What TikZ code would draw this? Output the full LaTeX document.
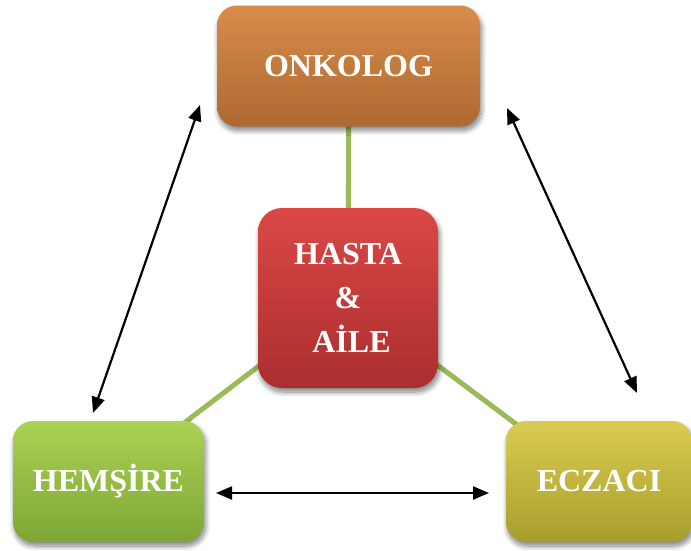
\documentclass[tikz,border=0pt]{standalone}
\usepackage{fontspec}
\setmainfont{Liberation Serif}
\usetikzlibrary{arrows.meta,shadows.blur}

\definecolor{onkTop}{RGB}{216,140,76}
\definecolor{onkBot}{RGB}{174,104,48}
\definecolor{hasTop}{RGB}{219,72,70}
\definecolor{hasBot}{RGB}{170,46,46}
\definecolor{hemTop}{RGB}{170,210,84}
\definecolor{hemBot}{RGB}{126,166,54}
\definecolor{eczTop}{RGB}{218,204,82}
\definecolor{eczBot}{RGB}{168,158,44}
\definecolor{linkGreen}{RGB}{155,187,89}

\tikzset{
  rolebox/.style={rounded corners=20pt, inner sep=0pt, align=center,
    text=white, font=\bfseries\fontsize{32}{46}\selectfont,
    blur shadow={shadow xshift=1.5pt, shadow yshift=-4pt,
      shadow blur radius=5pt, shadow blur steps=10, shadow opacity=50}},
  link/.style={draw=linkGreen, line width=5pt},
  dblarrow/.style={line width=2.2pt,
    {Triangle[length=16pt,width=13pt]}-{Triangle[length=16pt,width=13pt]}}
}

\begin{document}
\begin{tikzpicture}[x=1pt,y=-1pt]
\useasboundingbox (0,0) rectangle (691,550);

% green links to the central box (drawn first, stay behind the boxes)
\coordinate (hubC) at (348,298);
\coordinate (onkC) at (349,66);
\coordinate (hemC) at (112,478);
\coordinate (eczC) at (596,484);
\draw[link] (onkC) -- (hubC);
\draw[link] (hubC) -- (hemC);
\draw[link] (hubC) -- (eczC);

% boxes
\node[rolebox, minimum width=263pt, minimum height=121pt,
      top color=onkTop, bottom color=onkBot] (onk) at (348.5,66) {ONKOLOG};
\node[rolebox, rounded corners=24pt, minimum width=180pt, minimum height=180pt,
      top color=hasTop, bottom color=hasBot] (hub) at (348,298)
      {HASTA\\[-2pt]\&\\[-2pt]\hspace*{7pt}AİLE};
\node[rolebox, minimum width=191pt, minimum height=121pt,
      top color=hemTop, bottom color=hemBot] (hem) at (108.5,481.5) {HEMŞİRE};
\node[rolebox, minimum width=186pt, minimum height=121pt,
      top color=eczTop, bottom color=eczBot] (ecz) at (599,481.5) {ECZACI};

% two-way arrows between the outer roles
\coordinate (a1) at (93,413);
\coordinate (a2) at (200,105);
\coordinate (b1) at (507,108);
\coordinate (b2) at (637,393);
\coordinate (c1) at (216,493);
\coordinate (c2) at (489,493);
\draw[dblarrow] (a1) -- (a2);
\draw[dblarrow] (b1) -- (b2);
\draw[dblarrow] (c1) -- (c2);
\end{tikzpicture}
\end{document}
